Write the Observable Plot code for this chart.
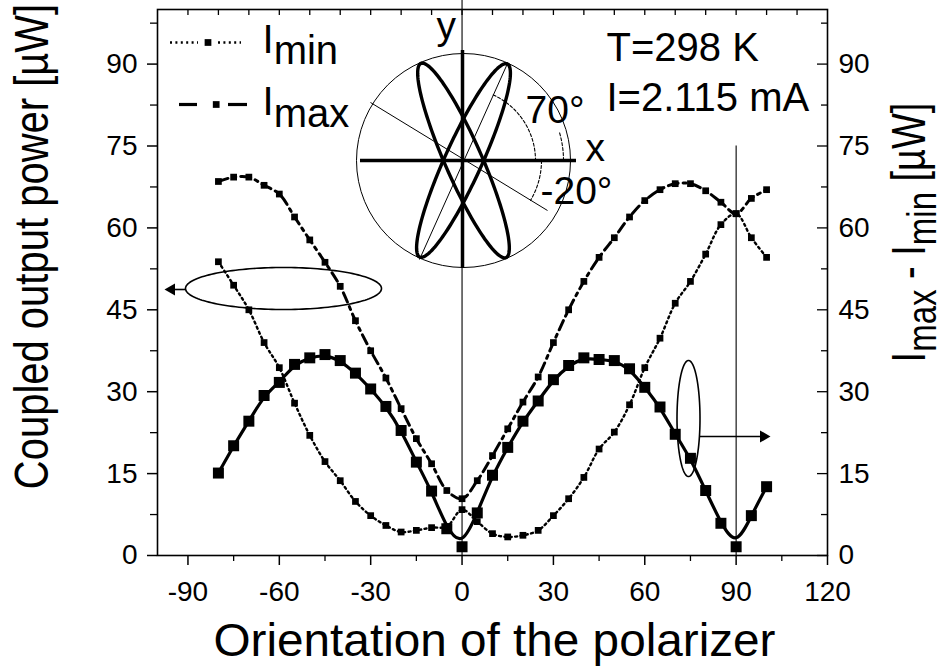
<!DOCTYPE html>
<html><head><meta charset="utf-8">
<script src="https://cdn.jsdelivr.net/npm/d3@7"></script>
<script src="https://cdn.jsdelivr.net/npm/@observablehq/plot@0.6"></script>
<style>html,body{margin:0;padding:0;background:#fff;} #chart svg{display:block;}</style>
</head><body><div id="chart"></div>
<script>
// ---------- data ----------
const angles = [-80,-75,-70,-65,-60,-55,-50,-45,-40,-35,-30,-25,-20,-15,-10,-5,0,5,10,15,20,25,30,35,40,45,50,55,60,65,70,75,80,85,90,95,100];
const iMin  = [53.8,49.5,45.0,39.0,34.4,27.9,22.0,17.2,13.7,9.9,7.3,5.5,4.3,4.6,5.1,5.3,8.4,6.2,4.0,3.4,3.7,4.6,7.3,10.4,14.3,19.5,22.6,27.6,34.4,39.8,46.2,50.2,55.2,60.6,62.6,58.2,54.6];
const iMax  = [68.5,69.3,69.3,67.8,66.2,62.0,57.8,53.7,49.3,43.0,37.5,32.5,26.9,21.4,16.8,11.9,10.4,13.7,18.3,23.2,28.1,32.7,39.0,45.0,50.2,54.6,58.2,62.0,65.0,67.0,68.1,68.1,66.8,64.7,62.6,65.4,67.0];
const iDiff = [15.1,20.1,24.6,29.3,31.7,35.0,36.2,36.8,35.7,33.4,30.5,27.3,22.9,17.1,11.8,4.9,1.6,7.8,14.7,19.8,24.6,28.3,32.2,34.8,36.2,35.9,35.7,34.2,30.8,27.2,22.2,17.8,11.9,5.9,1.6,7.3,12.6];

const xTickLabels = [-90,-60,-30,0,30,60,90,120];
const xMinorTicks = [-75,-45,-15,15,45,75,105];
const xTopTicks   = [-90,-80,-70,-60,-50,-40,-30,-20,-10,0,10,20,30,40,50,60,70,80,90,100,110];
const yTickLabels = [0,15,30,45,60,75,90];
const yMinorTicks = [7.5,22.5,37.5,52.5,67.5,82.5,97.5];

const xTitle = "Orientation of the polarizer";
const yTitle = "Coupled output power [µW]";
const y2Title = "I_{max} - I_{min} [µW]";
const legendMin = "I_{min}";
const legendMax = "I_{max}";
const condT = "T=298 K";
const condI = "I=2.115 mA";

// ---------- layout ----------
const W = 952, H = 667, ML = 157, MR = 125, MT = 9, MB = 112;
const xDomain = [-100, 120], yDomain = [0, 100];
const sx = d3.scaleLinear(xDomain, [ML, W - MR]);
const sy = d3.scaleLinear(yDomain, [H - MB, MT]);
const ix = px => sx.invert(px), iy = py => sy.invert(py);
const P = (px, py, extra = {}) => ({x: ix(px), y: iy(py), ...extra});

const rows = angles.map((a, i) => ({angle: a, imin: iMin[i], imax: iMax[i], diff: iDiff[i]}));

// schematic geometry helpers (pixel space -> data space)
function ellipse(cx, cy, a, b, ux, uy, z, n = 160) {
  const L = Math.hypot(ux, uy); ux /= L; uy /= L;
  const vx = -uy, vy = ux, out = [];
  for (let k = 0; k <= n; k++) {
    const t = 2 * Math.PI * k / n;
    out.push(P(cx + a * Math.cos(t) * ux + b * Math.sin(t) * vx,
               cy + a * Math.cos(t) * uy + b * Math.sin(t) * vy, {z}));
  }
  return out;
}
function arc(cx, cy, r, a0, a1, z, n = 60) {
  const out = [];
  for (let k = 0; k <= n; k++) {
    const a = (a0 + (a1 - a0) * k / n) * Math.PI / 180;
    out.push(P(cx + r * Math.cos(a), cy - r * Math.sin(a), {z}));
  }
  return out;
}
const C = [463, 160];
const lensPts = [...ellipse(C[0], C[1], 106, 18.5, -43, -98, "A"), ...ellipse(C[0], C[1], 106, 18.5, 44, -97, "B")];
const calloutPts = [...ellipse(283, 288, 98, 21, 1, 0, "L"), ...ellipse(688, 418, 58, 11.5, 0, 1, "R")];
const angB = Math.atan2(97, 44) * 180 / Math.PI;
const angN = Math.atan2(-50, 84) * 180 / Math.PI;
const arcPts = [...arc(C[0], C[1], 72, angB, 0, "a1"), ...arc(C[0], C[1], 78, 0, angN, "a2"), ...arc(C[0], C[1], 100, 16, 0, "a3")];

const font = "'Liberation Sans', Arial, Helvetica, sans-serif";

const chart = Plot.plot({
  width: W, height: H,
  marginLeft: ML, marginRight: MR, marginTop: MT, marginBottom: MB,
  x: {domain: xDomain, label: null},
  y: {domain: yDomain, label: null},
  style: {fontFamily: font, color: "#000", background: "#fff", overflow: "visible"},
  marks: [
    // axes
    Plot.axisX({ticks: xTickLabels, anchor: "bottom", tickSize: 10, tickPadding: 16, fontSize: 28, tickFormat: d => String(d), label: null, strokeWidth: 1.5}),
    Plot.axisX({ticks: xMinorTicks, anchor: "bottom", tickSize: 6, tickFormat: () => "", label: null, strokeWidth: 1.3}),
    Plot.ruleX(xTopTicks, {y1: iy(MT + 6), y2: yDomain[1], stroke: "#000", strokeWidth: 1.3}),
    Plot.axisY({ticks: yTickLabels, anchor: "left", tickSize: 10, tickPadding: 10, fontSize: 28, tickFormat: d => String(d), label: null, strokeWidth: 1.5}),
    Plot.axisY({ticks: yMinorTicks, anchor: "left", tickSize: 7, tickFormat: () => "", label: null, strokeWidth: 1.3}),
    Plot.axisY({ticks: yTickLabels, anchor: "right", tickSize: 0, tickPadding: 11, fontSize: 28, tickFormat: d => String(d), label: null}),
    Plot.ruleY(yTickLabels, {x1: ix(W - MR - 10), x2: xDomain[1], stroke: "#000", strokeWidth: 1.3}),
    Plot.ruleY(yMinorTicks, {x1: ix(W - MR - 6), x2: xDomain[1], stroke: "#000", strokeWidth: 1.3}),
    Plot.frame({stroke: "#000", strokeWidth: 1.6}),

    // reference verticals at 0 and 90 degrees
    Plot.ruleX([0], {y1: 0, y2: iy(0), stroke: "#000", strokeWidth: 1.1}),
    Plot.ruleX([90], {y1: 0, y2: 75, stroke: "#000", strokeWidth: 1.1}),

    // series
    Plot.line(rows, {x: "angle", y: "imin", curve: "catmull-rom", stroke: "#000", strokeWidth: 2.4, strokeDasharray: "2,3.4"}),
    Plot.dot(rows, {x: "angle", y: "imin", symbol: "square", r: 3.8, fill: "#000"}),
    Plot.line(rows, {x: "angle", y: "imax", curve: "catmull-rom", stroke: "#000", strokeWidth: 3, strokeDasharray: "10,5,3,5"}),
    Plot.dot(rows, {x: "angle", y: "imax", symbol: "square", r: 3.8, fill: "#000"}),
    Plot.line(rows, {x: "angle", y: "diff", curve: "basis", stroke: "#000", strokeWidth: 3.2}),
    Plot.dot(rows, {x: "angle", y: "diff", symbol: "square", r: 6.2, fill: "#000"}),

    // legend
    Plot.ruleY([iy(42)], {x1: ix(170), x2: ix(198), stroke: "#000", strokeWidth: 2.4, strokeDasharray: "2,3.4"}),
    Plot.ruleY([iy(42)], {x1: ix(218), x2: ix(241), stroke: "#000", strokeWidth: 2.4, strokeDasharray: "2,3.4"}),
    Plot.dot([P(207.5, 42)], {x: "x", y: "y", symbol: "square", r: 3.8, fill: "#000"}),
    Plot.ruleY([iy(104)], {x1: ix(179), x2: ix(197), stroke: "#000", strokeWidth: 3.2}),
    Plot.ruleY([iy(104)], {x1: ix(228), x2: ix(247), stroke: "#000", strokeWidth: 3.2}),
    Plot.dot([P(215.7, 104)], {x: "x", y: "y", symbol: "square", r: 3.8, fill: "#000"}),
    Plot.text([P(262, 52, {t: legendMin}), P(262, 114, {t: legendMax})], {x: "x", y: "y", text: "t", textAnchor: "start", lineAnchor: "bottom", fontSize: 40}),

    // conditions
    Plot.text([P(606, 60, {t: condT}), P(606, 110, {t: condI})], {x: "x", y: "y", text: "t", textAnchor: "start", lineAnchor: "bottom", fontSize: 40}),

    // inset schematic
    Plot.dot([P(C[0], C[1])], {x: "x", y: "y", r: 107, fill: "none", stroke: "#000", strokeWidth: 1}),
    Plot.line(lensPts, {x: "x", y: "y", z: "z", stroke: "#000", strokeWidth: 3.4}),
    Plot.ruleY([iy(160)], {x1: ix(360), x2: ix(576), stroke: "#000", strokeWidth: 3.5}),
    Plot.ruleX([ix(462)], {y1: iy(268), y2: iy(50), stroke: "#000", strokeWidth: 3.5}),
    Plot.link([{x1: ix(419), y1: iy(259), x2: ix(507), y2: iy(63)}, {x1: ix(370), y1: iy(102), x2: ix(547), y2: iy(210)}],
      {x1: "x1", y1: "y1", x2: "x2", y2: "y2", stroke: "#000", strokeWidth: 1}),
    Plot.line(arcPts, {x: "x", y: "y", z: "z", stroke: "#000", strokeWidth: 1.1, strokeDasharray: "3,2"}),
    Plot.text([P(436, 38, {t: "y"}), P(585, 160, {t: "x"}), P(525, 122, {t: "70°"}), P(540, 203, {t: "-20°"})],
      {x: "x", y: "y", text: "t", textAnchor: "start", lineAnchor: "bottom", fontSize: 39}),

    // callouts
    Plot.line(calloutPts, {x: "x", y: "y", z: "z", stroke: "#000", strokeWidth: 1.6}),
    Plot.ruleY([iy(289)], {x1: ix(174), x2: ix(185), stroke: "#000", strokeWidth: 1.6}),
    Plot.dot([P(171, 289)], {x: "x", y: "y", symbol: "triangle", rotate: -90, r: 4.5, fill: "#000"}),
    Plot.ruleY([iy(436)], {x1: ix(699), x2: ix(760), stroke: "#000", strokeWidth: 1.6}),
    Plot.dot([P(763, 436)], {x: "x", y: "y", symbol: "triangle", rotate: 90, r: 4.5, fill: "#000"}),

    // axis titles
    Plot.text([P(494, 655, {t: xTitle})], {x: "x", y: "y", text: "t", textAnchor: "middle", lineAnchor: "bottom", fontSize: 46}),
    Plot.text([P(47, 246, {t: yTitle})], {x: "x", y: "y", text: "t", rotate: -90, textAnchor: "middle", lineAnchor: "bottom", fontSize: 40}),
    Plot.text([P(924, 232, {t: y2Title})], {x: "x", y: "y", text: "t", rotate: -90, textAnchor: "middle", lineAnchor: "bottom", fontSize: 38})
  ]
});

// subscripts, text fitting and glyph stretch of the rotated titles
const subCfg = {};
subCfg[legendMin] = {shift: 11.5, fs: 40};
subCfg[legendMax] = {shift: 12, fs: 40};
subCfg[y2Title] = {shift: 9.5, fs: 33};
const fitCfg = {};
fitCfg[xTitle] = 562;
const stretchCfg = {};
stretchCfg[yTitle] = 1.22;
stretchCfg[y2Title] = 1.25;
const NS = "http://www.w3.org/2000/svg";
chart.querySelectorAll("text").forEach(t => {
  const s = t.textContent;
  if (subCfg[s]) {
    const cfg = subCfg[s];
    const parts = s.split(/(_\{[^}]*\})/).filter(p => p !== "");
    t.textContent = "";
    let inSub = false;
    parts.forEach(p => {
      const ts = document.createElementNS(NS, "tspan");
      if (p.startsWith("_{")) {
        ts.textContent = p.slice(2, -1);
        ts.setAttribute("dy", cfg.shift);
        ts.setAttribute("font-size", cfg.fs);
        inSub = true;
      } else {
        ts.textContent = p;
        if (inSub) ts.setAttribute("dy", -cfg.shift);
        inSub = false;
      }
      t.appendChild(ts);
    });
  }
  if (fitCfg[s]) {
    t.setAttribute("textLength", fitCfg[s]);
    t.setAttribute("lengthAdjust", "spacingAndGlyphs");
  }
  if (stretchCfg[s]) {
    const tr = t.getAttribute("transform") || "";
    t.setAttribute("transform", tr + ` scale(1,${stretchCfg[s]})`);
  }
});
document.getElementById("chart").appendChild(chart);
</script>
</body></html>
